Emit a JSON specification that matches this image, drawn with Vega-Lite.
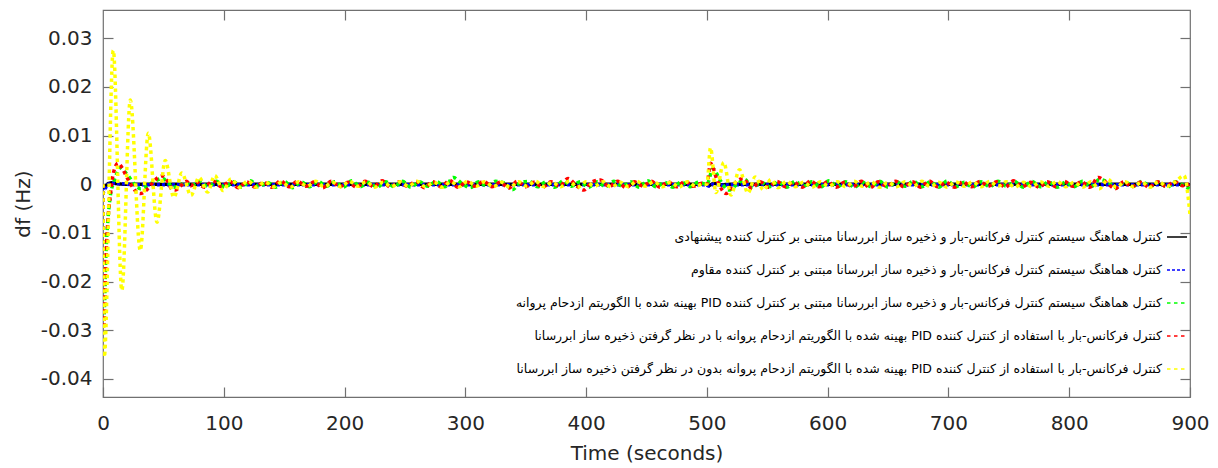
{
  "$schema": "https://vega.github.io/schema/vega-lite/v6.json",
  "width": 1087,
  "height": 387,
  "autosize": "none",
  "padding": {"left": 103, "top": 10, "right": 28, "bottom": 71},
  "background": "white",
  "config": {
    "view": {"stroke": "#707070", "strokeWidth": 1.2},
    "axis": {
      "grid": false, "domain": false, "tickColor": "#707070", "tickSize": -10, "tickWidth": 1.2, "labelFlush": false,
      "labelFont": "DejaVu Sans", "labelFontSize": 20, "labelColor": "#262626",
      "titleFont": "DejaVu Sans", "titleFontSize": 20, "titleFontWeight": "normal", "titleColor": "#262626"
    },
    "legend": {
      "orient": "none", "legendX": 1063, "legendY": 216, "padding": 0,
      "labelFont": "DejaVu Sans", "labelFontSize": 12.5, "labelColor": "#000000", "labelLimit": 900, "labelAlign": "right", "labelOffset": -26,
      "symbolType": "stroke", "symbolSize": 400, "symbolStrokeWidth": 1.5, "rowPadding": 15
    }
  },
  "data": {"values": [
    {"s":"k","t":0,"v":0},{"s":"k","t":1,"v":-0.0006},{"s":"k","t":4,"v":0.0001},{"s":"k","t":7,"v":0.0003},{"s":"k","t":12,"v":0.0001},{"s":"k","t":20,"v":0},{"s":"k","t":60,"v":0},{"s":"k","t":100,"v":0},{"s":"k","t":300,"v":0},{"s":"k","t":499,"v":0},{"s":"k","t":502,"v":-0.0002},{"s":"k","t":506,"v":0.0002},{"s":"k","t":512,"v":-0.0001},{"s":"k","t":520,"v":0},{"s":"k","t":700,"v":0},{"s":"k","t":898,"v":0},{"s":"k","t":900,"v":-0.0003},
    {"s":"b","t":0,"v":0},{"s":"b","t":0.6,"v":-0.0015},{"s":"b","t":2,"v":-0.0008},{"s":"b","t":4,"v":0},{"s":"b","t":8,"v":0.0002},{"s":"b","t":15,"v":0.0001},{"s":"b","t":30,"v":-0.0001},{"s":"b","t":60,"v":-0.0001},{"s":"b","t":100,"v":-0.0001},{"s":"b","t":300,"v":-0.0001},{"s":"b","t":499,"v":-0.0001},{"s":"b","t":502,"v":-0.0004},{"s":"b","t":506,"v":0.0001},{"s":"b","t":512,"v":-0.0002},{"s":"b","t":520,"v":-0.0001},{"s":"b","t":700,"v":-0.0001},{"s":"b","t":898,"v":-0.0001},{"s":"b","t":900,"v":-0.0005},
    {"s":"g","t":0,"v":0},{"s":"g","t":0.8,"v":-0.027},{"s":"g","t":2.5,"v":-0.014},{"s":"g","t":4.5,"v":-0.006},{"s":"g","t":6,"v":-0.0025},{"s":"g","t":9,"v":0.0005},{"s":"g","t":12,"v":0.0025},{"s":"g","t":15,"v":0.0034},{"s":"g","t":18,"v":0.0026},{"s":"g","t":22,"v":0.0014},{"s":"g","t":26,"v":0},{"s":"g","t":31,"v":-0.0009},{"s":"g","t":35,"v":-0.0006},{"s":"g","t":40,"v":0.0002},{"s":"g","t":45,"v":0.0009},{"s":"g","t":49,"v":0.0012},{"s":"g","t":54,"v":0.0003},{"s":"g","t":58,"v":-0.0006},{"s":"g","t":63,"v":-0.0004},{"s":"g","t":68,"v":0.0004},{"s":"g","t":73,"v":-0.0003},
    {"s":"g","t":80,"v":0.0006},{"s":"g","t":87,"v":-0.0005},{"s":"g","t":94,"v":0.0006},{"s":"g","t":101,"v":-0.0006},{"s":"g","t":108,"v":0.0005},{"s":"g","t":115,"v":-0.0006},{"s":"g","t":122,"v":0.0007},{"s":"g","t":129,"v":-0.0005},{"s":"g","t":136,"v":0.0004},{"s":"g","t":143,"v":-0.0006},{"s":"g","t":150,"v":0.0006},{"s":"g","t":157,"v":-0.0007},{"s":"g","t":164,"v":0.0005},{"s":"g","t":171,"v":-0.0005},{"s":"g","t":178,"v":0.0006},{"s":"g","t":185,"v":-0.0004},{"s":"g","t":192,"v":0.0005},{"s":"g","t":199,"v":-0.0006},{"s":"g","t":206,"v":0.0007},{"s":"g","t":213,"v":-0.0005},{"s":"g","t":220,"v":0.0004},{"s":"g","t":227,"v":-0.0006},{"s":"g","t":234,"v":0.0005},{"s":"g","t":241,"v":-0.0005},{"s":"g","t":248,"v":0.0006},{"s":"g","t":255,"v":-0.0006},{"s":"g","t":262,"v":0.0005},{"s":"g","t":269,"v":-0.0004},{"s":"g","t":276,"v":0.0006},{"s":"g","t":283,"v":-0.0005},{"s":"g","t":290,"v":0.0014},{"s":"g","t":297,"v":0.0002},{"s":"g","t":304,"v":-0.0007},{"s":"g","t":311,"v":0.0005},{"s":"g","t":318,"v":-0.0004},{"s":"g","t":325,"v":0.0006},{"s":"g","t":332,"v":0.0003},{"s":"g","t":339,"v":-0.0011},{"s":"g","t":346,"v":0.0004},{"s":"g","t":353,"v":0.0006},{"s":"g","t":360,"v":-0.0005},{"s":"g","t":367,"v":0.0005},{"s":"g","t":374,"v":-0.0006},{"s":"g","t":381,"v":0.0007},{"s":"g","t":388,"v":-0.0004},{"s":"g","t":395,"v":0.0005},{"s":"g","t":402,"v":-0.0006},{"s":"g","t":409,"v":0.0005},{"s":"g","t":416,"v":-0.0005},{"s":"g","t":423,"v":0.0006},{"s":"g","t":430,"v":-0.0004},{"s":"g","t":437,"v":0.0005},{"s":"g","t":444,"v":-0.0006},{"s":"g","t":451,"v":0.0007},{"s":"g","t":458,"v":-0.0005},{"s":"g","t":465,"v":0.0004},{"s":"g","t":472,"v":-0.0006},{"s":"g","t":479,"v":0.0005},{"s":"g","t":486,"v":-0.0005},{"s":"g","t":493,"v":0.0004},
    {"s":"g","t":500,"v":0},{"s":"g","t":505,"v":0.0032},{"s":"g","t":511,"v":0.0008},{"s":"g","t":518,"v":-0.0012},{"s":"g","t":525,"v":0},{"s":"g","t":531,"v":0.001},{"s":"g","t":538,"v":-0.0006},{"s":"g","t":545,"v":0.0004},{"s":"g","t":552,"v":-0.0005},
    {"s":"g","t":559,"v":0.0005},{"s":"g","t":566,"v":-0.0006},{"s":"g","t":573,"v":0.0006},{"s":"g","t":580,"v":-0.0004},{"s":"g","t":587,"v":0.0005},{"s":"g","t":594,"v":-0.0006},{"s":"g","t":601,"v":0.0007},{"s":"g","t":608,"v":-0.0005},{"s":"g","t":615,"v":0.0005},{"s":"g","t":622,"v":-0.0006},{"s":"g","t":629,"v":0.0004},{"s":"g","t":636,"v":-0.0005},{"s":"g","t":643,"v":0.0006},{"s":"g","t":650,"v":-0.0006},{"s":"g","t":657,"v":0.0005},{"s":"g","t":664,"v":-0.0004},{"s":"g","t":671,"v":0.0006},{"s":"g","t":678,"v":-0.0005},{"s":"g","t":685,"v":0.0005},{"s":"g","t":692,"v":-0.0006},{"s":"g","t":699,"v":0.0007},{"s":"g","t":706,"v":-0.0005},{"s":"g","t":713,"v":0.0004},{"s":"g","t":720,"v":-0.0006},{"s":"g","t":727,"v":0.0005},{"s":"g","t":734,"v":-0.0005},{"s":"g","t":741,"v":0.0006},{"s":"g","t":748,"v":-0.0004},{"s":"g","t":755,"v":0.0005},{"s":"g","t":762,"v":-0.0006},{"s":"g","t":769,"v":0.0006},{"s":"g","t":776,"v":-0.0005},{"s":"g","t":783,"v":0.0005},{"s":"g","t":790,"v":-0.0006},{"s":"g","t":797,"v":0.0004},{"s":"g","t":804,"v":-0.0005},{"s":"g","t":811,"v":0.0006},{"s":"g","t":818,"v":-0.0005},{"s":"g","t":825,"v":0.001},{"s":"g","t":832,"v":0.0004},{"s":"g","t":839,"v":-0.0007},{"s":"g","t":846,"v":0.0005},{"s":"g","t":853,"v":-0.0004},{"s":"g","t":860,"v":0.0006},{"s":"g","t":867,"v":-0.0005},{"s":"g","t":874,"v":0.0004},{"s":"g","t":881,"v":-0.0006},{"s":"g","t":888,"v":0.0005},{"s":"g","t":895,"v":-0.0003},{"s":"g","t":900,"v":-0.001},
    {"s":"r","t":0,"v":0},{"s":"r","t":0.8,"v":-0.029},{"s":"r","t":2.5,"v":-0.015},{"s":"r","t":4.5,"v":-0.006},{"s":"r","t":6,"v":-0.0023},{"s":"r","t":8,"v":0.0015},{"s":"r","t":10,"v":0.0035},{"s":"r","t":12.5,"v":0.0043},{"s":"r","t":16,"v":0.0033},{"s":"r","t":19,"v":0.0018},{"s":"r","t":23,"v":0},{"s":"r","t":27,"v":-0.0014},{"s":"r","t":31,"v":-0.0019},{"s":"r","t":35,"v":-0.0014},{"s":"r","t":40,"v":0},{"s":"r","t":45,"v":0.0013},{"s":"r","t":49,"v":0.0017},{"s":"r","t":53,"v":0.0008},{"s":"r","t":57,"v":-0.001},{"s":"r","t":60,"v":-0.0012},{"s":"r","t":64,"v":-0.0004},{"s":"r","t":69,"v":0.0006},{"s":"r","t":73,"v":-0.0003},
    {"s":"r","t":77,"v":0.0005},{"s":"r","t":84,"v":-0.0006},{"s":"r","t":91,"v":0.0007},{"s":"r","t":98,"v":-0.0005},{"s":"r","t":105,"v":0.0006},{"s":"r","t":112,"v":-0.0007},{"s":"r","t":119,"v":0.0005},{"s":"r","t":126,"v":-0.0006},{"s":"r","t":133,"v":0.0004},{"s":"r","t":140,"v":-0.0006},{"s":"r","t":147,"v":0.0007},{"s":"r","t":154,"v":-0.0005},{"s":"r","t":161,"v":0.0006},{"s":"r","t":168,"v":-0.0004},{"s":"r","t":175,"v":0.0005},{"s":"r","t":182,"v":-0.0007},{"s":"r","t":189,"v":0.0006},{"s":"r","t":196,"v":-0.0005},{"s":"r","t":203,"v":0.0004},{"s":"r","t":210,"v":-0.0006},{"s":"r","t":217,"v":0.0006},{"s":"r","t":224,"v":-0.0005},{"s":"r","t":231,"v":0.0007},{"s":"r","t":238,"v":-0.0006},{"s":"r","t":245,"v":0.0005},{"s":"r","t":252,"v":-0.0004},{"s":"r","t":259,"v":0.0006},{"s":"r","t":266,"v":-0.0007},{"s":"r","t":273,"v":0.0005},{"s":"r","t":280,"v":-0.0005},{"s":"r","t":287,"v":0.0008},{"s":"r","t":294,"v":-0.0006},{"s":"r","t":301,"v":0.0005},{"s":"r","t":308,"v":-0.0004},{"s":"r","t":315,"v":0.0006},{"s":"r","t":322,"v":-0.0005},{"s":"r","t":329,"v":0.0004},{"s":"r","t":336,"v":-0.0008},{"s":"r","t":343,"v":0.0006},{"s":"r","t":350,"v":-0.0005},{"s":"r","t":357,"v":0.0004},{"s":"r","t":364,"v":-0.0006},{"s":"r","t":371,"v":0.0005},{"s":"r","t":378,"v":-0.0004},{"s":"r","t":385,"v":0.0012},{"s":"r","t":392,"v":-0.0003},{"s":"r","t":398,"v":-0.0012},{"s":"r","t":405,"v":0.0005},{"s":"r","t":412,"v":0.0009},{"s":"r","t":419,"v":-0.0005},{"s":"r","t":426,"v":0.0006},{"s":"r","t":433,"v":-0.0007},{"s":"r","t":440,"v":0.0005},{"s":"r","t":447,"v":-0.0004},{"s":"r","t":454,"v":0.0006},{"s":"r","t":461,"v":-0.0006},{"s":"r","t":468,"v":0.0005},{"s":"r","t":475,"v":-0.0005},{"s":"r","t":482,"v":0.0006},{"s":"r","t":489,"v":-0.0004},{"s":"r","t":496,"v":0.0002},
    {"s":"r","t":500,"v":0},{"s":"r","t":503,"v":0.0043},{"s":"r","t":509,"v":0.0005},{"s":"r","t":516,"v":-0.0019},{"s":"r","t":523,"v":0.0002},{"s":"r","t":530,"v":0.0012},{"s":"r","t":537,"v":-0.0008},{"s":"r","t":544,"v":0.0005},{"s":"r","t":551,"v":-0.0006},
    {"s":"r","t":558,"v":0.0006},{"s":"r","t":565,"v":-0.0005},{"s":"r","t":572,"v":0.0004},{"s":"r","t":579,"v":-0.0006},{"s":"r","t":586,"v":0.0007},{"s":"r","t":593,"v":-0.0005},{"s":"r","t":600,"v":0.0005},{"s":"r","t":607,"v":-0.0006},{"s":"r","t":614,"v":0.0004},{"s":"r","t":621,"v":-0.0005},{"s":"r","t":628,"v":0.0006},{"s":"r","t":635,"v":-0.0007},{"s":"r","t":642,"v":0.0005},{"s":"r","t":649,"v":-0.0004},{"s":"r","t":656,"v":0.0006},{"s":"r","t":663,"v":-0.0005},{"s":"r","t":670,"v":0.0005},{"s":"r","t":677,"v":-0.0006},{"s":"r","t":684,"v":0.0007},{"s":"r","t":691,"v":-0.0005},{"s":"r","t":698,"v":0.0004},{"s":"r","t":705,"v":-0.0006},{"s":"r","t":712,"v":0.0005},{"s":"r","t":719,"v":-0.0005},{"s":"r","t":726,"v":0.0006},{"s":"r","t":733,"v":-0.0004},{"s":"r","t":740,"v":0.0005},{"s":"r","t":747,"v":-0.0006},{"s":"r","t":754,"v":0.0007},{"s":"r","t":761,"v":-0.0005},{"s":"r","t":768,"v":0.0004},{"s":"r","t":775,"v":-0.0006},{"s":"r","t":782,"v":0.0005},{"s":"r","t":789,"v":-0.0005},{"s":"r","t":796,"v":0.0006},{"s":"r","t":803,"v":-0.0004},{"s":"r","t":810,"v":0.0005},{"s":"r","t":817,"v":-0.0006},{"s":"r","t":824,"v":0.0014},{"s":"r","t":831,"v":0.0003},{"s":"r","t":838,"v":-0.0009},{"s":"r","t":845,"v":0.0005},{"s":"r","t":852,"v":-0.0005},{"s":"r","t":859,"v":0.0004},{"s":"r","t":866,"v":-0.0006},{"s":"r","t":873,"v":0.0005},{"s":"r","t":880,"v":-0.0004},{"s":"r","t":887,"v":0.0005},{"s":"r","t":894,"v":-0.0003},{"s":"r","t":897,"v":0.0002},{"s":"r","t":900,"v":-0.0012},
    {"s":"y","t":0,"v":0},{"s":"y","t":1,"v":-0.0355},{"s":"y","t":8.5,"v":0.0275},{"s":"y","t":15.6,"v":-0.0218},{"s":"y","t":22.6,"v":0.0173},{"s":"y","t":30.9,"v":-0.0136},{"s":"y","t":37.5,"v":0.0105},{"s":"y","t":44.7,"v":-0.0078},{"s":"y","t":51.5,"v":0.0049},{"s":"y","t":58.7,"v":-0.0027},{"s":"y","t":65.3,"v":0.0023},{"s":"y","t":72.8,"v":-0.0023},{"s":"y","t":79.5,"v":0.0014},{"s":"y","t":86.6,"v":-0.0016},{"s":"y","t":92.5,"v":0.0018},{"s":"y","t":99.5,"v":-0.0013},{"s":"y","t":106,"v":0.0011},{"s":"y","t":113,"v":-0.0006},{"s":"y","t":120,"v":0.0007},{"s":"y","t":127,"v":-0.0006},
    {"s":"y","t":134,"v":0.0005},{"s":"y","t":141,"v":-0.0005},{"s":"y","t":148,"v":0.0004},{"s":"y","t":155,"v":-0.0006},{"s":"y","t":162,"v":0.0005},{"s":"y","t":169,"v":-0.0004},{"s":"y","t":176,"v":0.0006},{"s":"y","t":183,"v":-0.0005},{"s":"y","t":190,"v":0.0004},{"s":"y","t":197,"v":-0.0005},{"s":"y","t":204,"v":0.0006},{"s":"y","t":211,"v":-0.0004},{"s":"y","t":218,"v":0.0005},{"s":"y","t":225,"v":-0.0006},{"s":"y","t":232,"v":0.0004},{"s":"y","t":239,"v":-0.0005},{"s":"y","t":246,"v":0.0005},{"s":"y","t":253,"v":-0.0004},{"s":"y","t":260,"v":0.0006},{"s":"y","t":267,"v":-0.0005},{"s":"y","t":274,"v":0.0004},{"s":"y","t":281,"v":-0.0006},{"s":"y","t":288,"v":0.0005},{"s":"y","t":295,"v":-0.0005},{"s":"y","t":302,"v":0.0006},{"s":"y","t":309,"v":-0.0004},{"s":"y","t":316,"v":0.0005},{"s":"y","t":323,"v":-0.0005},{"s":"y","t":330,"v":0.0004},{"s":"y","t":337,"v":-0.0006},{"s":"y","t":344,"v":0.0005},{"s":"y","t":351,"v":-0.0004},{"s":"y","t":358,"v":0.0006},{"s":"y","t":365,"v":-0.0005},{"s":"y","t":372,"v":0.0004},{"s":"y","t":379,"v":-0.0005},{"s":"y","t":386,"v":0.0006},{"s":"y","t":393,"v":-0.0006},{"s":"y","t":400,"v":0.0005},{"s":"y","t":407,"v":-0.0004},{"s":"y","t":414,"v":0.0005},{"s":"y","t":421,"v":-0.0006},{"s":"y","t":428,"v":0.0004},{"s":"y","t":435,"v":-0.0005},{"s":"y","t":442,"v":0.0006},{"s":"y","t":449,"v":-0.0004},{"s":"y","t":456,"v":0.0005},{"s":"y","t":463,"v":-0.0005},{"s":"y","t":470,"v":0.0004},{"s":"y","t":477,"v":-0.0006},{"s":"y","t":484,"v":0.0005},{"s":"y","t":491,"v":-0.0004},{"s":"y","t":497,"v":0.0001},
    {"s":"y","t":500,"v":0},{"s":"y","t":503,"v":0.0075},{"s":"y","t":507.5,"v":-0.0017},{"s":"y","t":514,"v":0.0045},{"s":"y","t":520,"v":-0.0022},{"s":"y","t":527,"v":0.003},{"s":"y","t":534,"v":-0.0018},{"s":"y","t":540,"v":0.0015},{"s":"y","t":547,"v":-0.0012},{"s":"y","t":553,"v":0.001},{"s":"y","t":559,"v":-0.0007},
    {"s":"y","t":566,"v":0.0006},{"s":"y","t":573,"v":-0.0005},{"s":"y","t":580,"v":0.0004},{"s":"y","t":587,"v":-0.0006},{"s":"y","t":594,"v":0.0005},{"s":"y","t":601,"v":-0.0004},{"s":"y","t":608,"v":0.0005},{"s":"y","t":615,"v":-0.0005},{"s":"y","t":622,"v":0.0006},{"s":"y","t":629,"v":-0.0004},{"s":"y","t":636,"v":0.0005},{"s":"y","t":643,"v":-0.0006},{"s":"y","t":650,"v":0.0004},{"s":"y","t":657,"v":-0.0005},{"s":"y","t":664,"v":0.0005},{"s":"y","t":671,"v":-0.0004},{"s":"y","t":678,"v":0.0006},{"s":"y","t":685,"v":-0.0005},{"s":"y","t":692,"v":0.0004},{"s":"y","t":699,"v":-0.0006},{"s":"y","t":706,"v":0.0005},{"s":"y","t":713,"v":-0.0004},{"s":"y","t":720,"v":0.0005},{"s":"y","t":727,"v":-0.0005},{"s":"y","t":734,"v":0.0006},{"s":"y","t":741,"v":-0.0004},{"s":"y","t":748,"v":0.0005},{"s":"y","t":755,"v":-0.0006},{"s":"y","t":762,"v":0.0004},{"s":"y","t":769,"v":-0.0005},{"s":"y","t":776,"v":0.0005},{"s":"y","t":783,"v":-0.0004},{"s":"y","t":790,"v":0.0006},{"s":"y","t":797,"v":-0.0005},{"s":"y","t":804,"v":0.0004},{"s":"y","t":811,"v":-0.0006},{"s":"y","t":818,"v":0.0005},{"s":"y","t":825,"v":-0.0009},{"s":"y","t":832,"v":0.001},{"s":"y","t":839,"v":-0.0006},{"s":"y","t":846,"v":0.0005},{"s":"y","t":853,"v":-0.0005},{"s":"y","t":860,"v":0.0004},{"s":"y","t":867,"v":-0.0006},{"s":"y","t":874,"v":0.0005},{"s":"y","t":881,"v":-0.0004},{"s":"y","t":888,"v":0.0005},{"s":"y","t":895,"v":0.0018},{"s":"y","t":900,"v":-0.0062}
  ]},
  "layer": [
    {
      "mark": {"type": "line", "interpolate": "monotone", "strokeWidth": 3.5, "strokeCap": "butt", "clip": true},
      "encoding": {
        "x": {"field": "t", "type": "quantitative", "scale": {"domain": [0, 900], "nice": false},
              "axis": {"values": [0,100,200,300,400,500,600,700,800,900], "title": "Time (seconds)", "labelPadding": 26, "titlePadding": 10}},
        "y": {"field": "v", "type": "quantitative", "scale": {"domain": [-0.0437, 0.0358], "nice": false, "zero": false},
              "axis": {"values": [-0.04,-0.03,-0.02,-0.01,0,0.01,0.02,0.03], "labelExpr": "replace(format(datum.value, '.2~f'), '\u2212', '-')", "title": "df (Hz)", "labelPadding": 21, "titlePadding": 7}},
        "color": {"field": "s", "type": "nominal", "sort": ["k","b","g","r","y"],
                  "scale": {"domain": ["k","b","g","r","y"], "range": ["#000000","#0000ff","#00ff00","#ff0000","#ffff00"]},
                  "legend": {"title": null, "labelExpr": "datum.value == 'k' ? '\u202bکنترل هماهنگ سیستم کنترل فرکانس-بار و ذخیره ساز ابررسانا مبتنی بر کنترل کننده پیشنهادی\u202c' : datum.value == 'b' ? '\u202bکنترل هماهنگ سیستم کنترل فرکانس-بار و ذخیره ساز ابررسانا مبتنی بر کنترل کننده مقاوم\u202c' : datum.value == 'g' ? '\u202bکنترل هماهنگ سیستم کنترل فرکانس-بار و ذخیره ساز ابررسانا مبتنی بر کنترل کننده PID بهینه شده با الگوریتم ازدحام پروانه\u202c' : datum.value == 'r' ? '\u202bکنترل فرکانس-بار با استفاده از کنترل کننده PID بهینه شده با الگوریتم ازدحام پروانه با در نظر گرفتن ذخیره ساز ابررسانا\u202c' : '\u202bکنترل فرکانس-بار با استفاده از کنترل کننده PID بهینه شده با الگوریتم ازدحام پروانه بدون در نظر گرفتن ذخیره ساز ابررسانا\u202c'"}},
        "strokeDash": {"field": "s", "type": "nominal", "sort": ["k","b","g","r","y"],
                  "scale": {"domain": ["k","b","g","r","y"], "range": [[1,0],[3,2],[3.5,3.5],[3.5,3.5],[3.5,3.5]]},
                  "legend": {"title": null, "labelExpr": "datum.value == 'k' ? '\u202bکنترل هماهنگ سیستم کنترل فرکانس-بار و ذخیره ساز ابررسانا مبتنی بر کنترل کننده پیشنهادی\u202c' : datum.value == 'b' ? '\u202bکنترل هماهنگ سیستم کنترل فرکانس-بار و ذخیره ساز ابررسانا مبتنی بر کنترل کننده مقاوم\u202c' : datum.value == 'g' ? '\u202bکنترل هماهنگ سیستم کنترل فرکانس-بار و ذخیره ساز ابررسانا مبتنی بر کنترل کننده PID بهینه شده با الگوریتم ازدحام پروانه\u202c' : datum.value == 'r' ? '\u202bکنترل فرکانس-بار با استفاده از کنترل کننده PID بهینه شده با الگوریتم ازدحام پروانه با در نظر گرفتن ذخیره ساز ابررسانا\u202c' : '\u202bکنترل فرکانس-بار با استفاده از کنترل کننده PID بهینه شده با الگوریتم ازدحام پروانه بدون در نظر گرفتن ذخیره ساز ابررسانا\u202c'"}}
      }
    },
    {
      "mark": {"type": "line", "opacity": 0},
      "encoding": {
        "x": {"field": "t", "type": "quantitative", "scale": {"domain": [0, 900], "nice": false},
              "axis": {"orient": "top", "values": [100,200,300,400,500,600,700,800], "labels": false, "title": null}},
        "y": {"field": "v", "type": "quantitative", "scale": {"domain": [-0.0437, 0.0358], "nice": false, "zero": false},
              "axis": {"orient": "right", "values": [-0.04,-0.03,-0.02,-0.01,0,0.01,0.02,0.03], "labels": false, "title": null}}
      }
    }
  ],
  "resolve": {"axis": {"x": "independent", "y": "independent"}}
}
